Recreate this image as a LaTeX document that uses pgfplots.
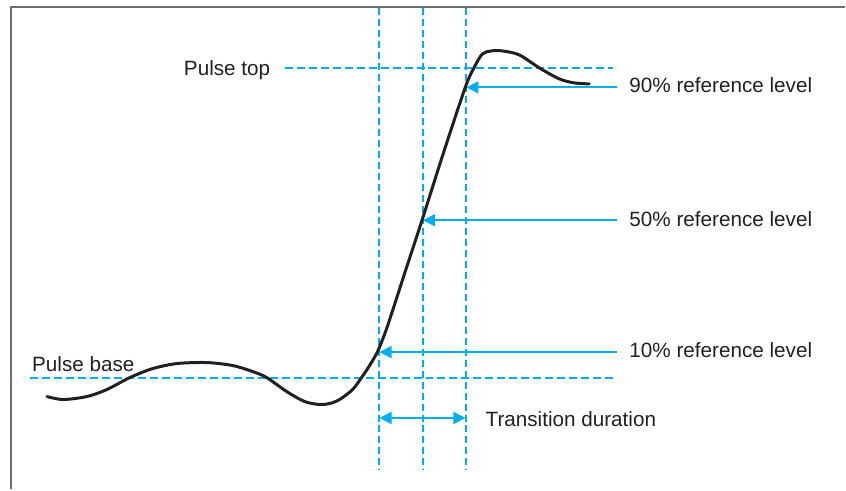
\documentclass[border=0pt]{standalone}
\usepackage{pgfplots}
\pgfplotsset{compat=1.18}
\usepackage{fontspec}
\setmainfont{Liberation Sans}
\usetikzlibrary{arrows.meta}
\definecolor{cy}{HTML}{00AEEF}
\definecolor{ink}{HTML}{231F20}
\definecolor{framegray}{HTML}{6D6E71}
\begin{document}
\begin{tikzpicture}
\begin{axis}[
  width=846bp, height=490bp, scale only axis,
  xmin=0, xmax=846, ymin=0, ymax=490, y dir=reverse,
  hide axis, clip=false,
  every axis plot/.append style={line cap=butt},
]
% canvas extent
\path (axis cs:0,0) rectangle (axis cs:846,490);
% frame
\addplot[framegray, line width=2bp, line join=miter] coordinates {(11,490) (11,7) (846,7)};
% vertical dashed lines
\addplot[cy, line width=1.5bp, dash pattern=on 7bp off 4bp] coordinates {(379.5,8) (379.5,471)};
\addplot[cy, line width=1.5bp, dash pattern=on 7bp off 4bp] coordinates {(423.5,8) (423.5,471)};
\addplot[cy, line width=1.5bp, dash pattern=on 7bp off 4bp] coordinates {(466.5,8) (466.5,471)};
% horizontal dashed lines
\addplot[cy, line width=1.8bp, dash pattern=on 8bp off 4bp] coordinates {(285,68) (614,68)};
\addplot[cy, line width=1.8bp, dash pattern=on 8bp off 4bp] coordinates {(30,378.5) (614,378.5)};
% reference arrows
\addplot[cy, line width=1.8bp, -{Triangle[length=12bp,width=12bp]}] coordinates {(618,87.5) (467,87.5)};
\addplot[cy, line width=1.8bp, -{Triangle[length=12bp,width=12bp]}] coordinates {(618,220.5) (423.5,220.5)};
\addplot[cy, line width=1.8bp, -{Triangle[length=12bp,width=12bp]}] coordinates {(618,352.5) (380,352.5)};
\addplot[cy, line width=1.8bp, {Triangle[length=12bp,width=12bp]}-{Triangle[length=12bp,width=12bp]}] coordinates {(380,418.5) (466,418.5)};
% waveform
\addplot[ink, line width=3bp, smooth, tension=0.5, line cap=round] coordinates {
(47,397) (63,400) (87,397) (107,390) (130,378) (153,369) (177,364) (207,363)
(233,366) (253,372) (267,378) (287,392) (305,402) (320,405) (330,404) (340,400)
(353,390) (362,378) (370,366) (378,352) (386,332) (395,305) (405,274)
(423,219) (444,153) (466,87) (475,67) (483,54) (492,51) (503,51) (520,55)
(540,68) (560,79) (575,83) (590,84)};
% labels
\begin{scope}[every node/.style={text=ink, inner sep=0pt, font=\fontsize{20.7bp}{24bp}\selectfont}]
\node[anchor=base west] at (axis cs:184,76) {Pulse top};
\node[anchor=base west] at (axis cs:32,372) {Pulse base};
\node[anchor=base west] at (axis cs:630,93) {90\% reference level};
\node[anchor=base west] at (axis cs:630,227) {50\% reference level};
\node[anchor=base west] at (axis cs:630,358) {10\% reference level};
\node[anchor=base west] at (axis cs:486,427) {Transition duration};
\end{scope}
\end{axis}
\end{tikzpicture}
\end{document}
